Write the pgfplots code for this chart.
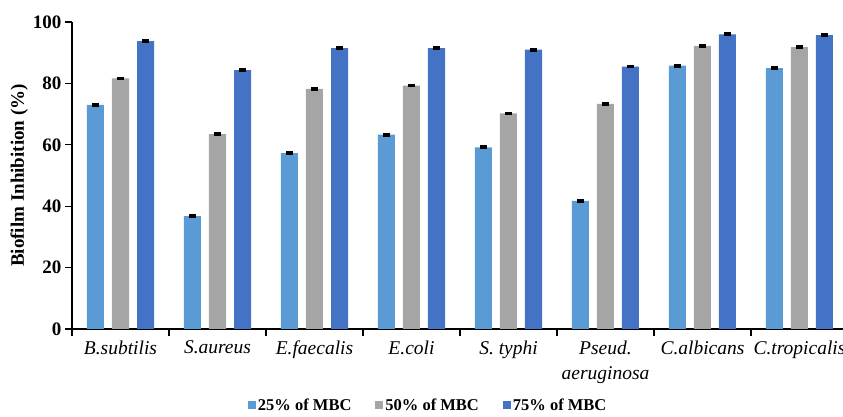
\documentclass[border=0pt]{standalone}
\usepackage{pgfplots}
\pgfplotsset{compat=1.18}
\usepackage{pgfplotstable}
\usepackage{fontspec}
\setmainfont{Liberation Serif}

\definecolor{c25}{RGB}{91,155,213}
\definecolor{c50}{RGB}{165,165,165}
\definecolor{c75}{RGB}{68,114,196}

% x  value  error
\pgfplotstableread{
x y e
0 73.0 0.3
1 36.8 0.3
2 57.3 0.3
3 63.3 0.3
4 59.2 0.3
5 41.7 0.3
6 85.8 0.3
7 85.0 0.3
}\mbcA
\pgfplotstableread{
x y e
0 81.6 0.3
1 63.5 0.3
2 78.2 0.3
3 79.3 0.3
4 70.2 0.3
5 73.3 0.3
6 92.2 0.3
7 91.8 0.3
}\mbcB
\pgfplotstableread{
x y e
0 93.8 0.3
1 84.3 0.3
2 91.5 0.3
3 91.5 0.3
4 91.0 0.3
5 85.5 0.3
6 96.0 0.3
7 95.7 0.3
}\mbcC

\begin{document}
\begin{tikzpicture}
\begin{axis}[
  at={(72pt,88pt)}, anchor=south west,
  scale only axis, width=776pt, height=307pt,
  ybar, bar width=17pt,
  xmin=-0.5, xmax=7.5, ymin=0, ymax=100,
  axis x line*=bottom, axis y line*=left,
  axis line style={black, line width=1.3pt},
  xtick={-0.5,0.5,...,7.5},
  x tick label as interval,
  xticklabels={B.subtilis, S.aureus, E.faecalis, E.coli, S. typhi, {Pseud.\\aeruginosa}, C.albicans, C.tropicalis},
  xticklabel style={font=\fontsize{19.5}{25}\selectfont\itshape, align=center, anchor=north, yshift=-1pt},
  ytick={0,20,...,100},
  yticklabel style={font=\fontsize{19}{22}\selectfont\bfseries},
  /pgf/number format/assume math mode=true,
  tick align=outside, major tick length=7pt,
  tick style={black, line width=1.2pt},
  ylabel={Biofilm Inhibition (\%)},
  ylabel style={font=\fontsize{19}{22}\selectfont\bfseries, at={(axis description cs:-0.068,0.5)}, anchor=center},
  error bars/y dir=both, error bars/y explicit,
  error bars/error bar style={black, line width=0.8pt},
  error bars/error mark options={black, line width=2pt, mark size=3.6pt, rotate=90},
  legend columns=3,
  legend style={at={(axis description cs:0.459,-0.2476)}, anchor=center, draw=none,
    font=\fontsize{16.5}{20}\selectfont\bfseries,
    /tikz/every even column/.append style={column sep=22pt}},
  legend image code/.code={\fill[#1] (0pt,-4pt) rectangle (8pt,4pt);},
]
\addplot[fill=c25, draw=none, bar shift=-25pt] table[x=x, y=y, y error=e] {\mbcA};
\addplot[fill=c50, draw=none, bar shift=0pt] table[x=x, y=y, y error=e] {\mbcB};
\addplot[fill=c75, draw=none, bar shift=25pt] table[x=x, y=y, y error=e] {\mbcC};
\legend{25\% of MBC, 50\% of MBC, 75\% of MBC}
\end{axis}
\pgfresetboundingbox
\useasboundingbox (0,0) rectangle (843pt,417pt);
\end{tikzpicture}
\end{document}
